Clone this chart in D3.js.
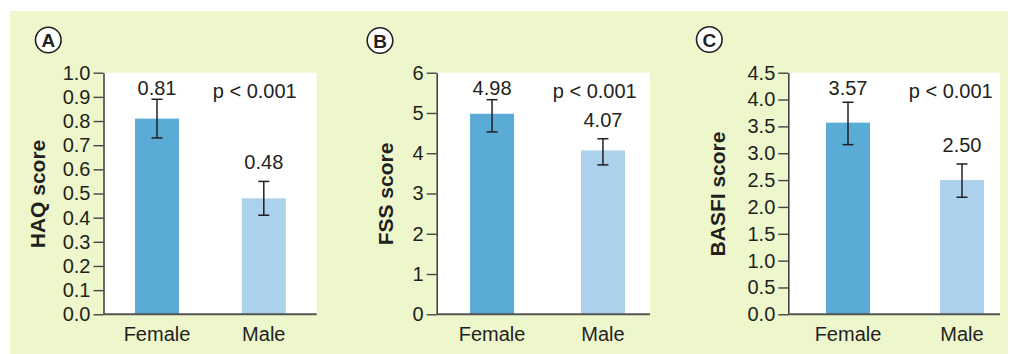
<!DOCTYPE html>
<html>
<head>
<meta charset="utf-8">
<script src="https://cdn.jsdelivr.net/npm/d3@7"></script>
<style>
  html, body { margin: 0; padding: 0; background: #ffffff; }
  svg { display: block; }
  text { font-family: "Liberation Sans", Arial, Helvetica, sans-serif; fill: #231f20; }
</style>
</head>
<body>
<svg id="chart" width="1010" height="354"></svg>
<script>
// ---- data ----
const categories = ["Female", "Male"];
const panelLetters = ["A", "B", "C"];
const yTitles = ["HAQ score", "FSS score", "BASFI score"];
const haqValues = [0.81, 0.48];
const haqErrLow = [0.73, 0.41];
const haqErrHigh = [0.89, 0.55];
const fssValues = [4.98, 4.07];
const fssErrLow = [4.53, 3.71];
const fssErrHigh = [5.33, 4.36];
const basfiValues = [3.57, 2.50];
const basfiErrLow = [3.16, 2.18];
const basfiErrHigh = [3.95, 2.80];
const haqTicks = [0, 0.1, 0.2, 0.3, 0.4, 0.5, 0.6, 0.7, 0.8, 0.9, 1.0];
const fssTicks = [0, 1, 2, 3, 4, 5, 6];
const basfiTicks = [0, 0.5, 1.0, 1.5, 2.0, 2.5, 3.0, 3.5, 4.0, 4.5];
const pText = "p < 0.001";

// ---- layout (not data) ----
const colors = ["#5aabd6", "#abd1ec"];
const panels = [
  { values: haqValues, lo: haqErrLow, hi: haqErrHigh, ticks: haqTicks, fmt: d3.format(".1f"), valFmt: d3.format(".2f"),
    axisX: 103.5, plotRight: 316.7, band: [103.6, 317.2], pEnd: 296.7, circle: [48.3, 40], titleX: 45 },
  { values: fssValues, lo: fssErrLow, hi: fssErrHigh, ticks: fssTicks, fmt: d3.format("d"), valFmt: d3.format(".2f"),
    axisX: 436.7, plotRight: 650, band: [436.6, 658.4], pEnd: 636.7, circle: [380, 40.5], titleX: 393 },
  { values: basfiValues, lo: basfiErrLow, hi: basfiErrHigh, ticks: basfiTicks, fmt: d3.format(".1f"), valFmt: d3.format(".2f"),
    axisX: 788.3, plotRight: 1000, band: [791, 1019], pEnd: 992.7, circle: [709.3, 39.5], titleX: 725 }
];
const yTop = 72.7, yBottom = 314.3;

const svg = d3.select("#chart");
svg.append("rect").attr("x", 10).attr("y", 11).attr("width", 998).attr("height", 343).attr("fill", "#edf7cb");

panels.forEach((p, i) => {
  const g = svg.append("g");
  const maxV = p.ticks[p.ticks.length - 1];
  const y = d3.scaleLinear().domain([0, maxV]).range([yBottom, yTop]);
  const step = (p.band[1] - p.band[0]) / categories.length;
  const pad = 1 - 44 / step;
  const x = d3.scaleBand().domain(categories).range(p.band).paddingInner(pad).paddingOuter(pad / 2);

  // white plot area
  g.append("rect").attr("x", p.axisX).attr("y", yTop).attr("width", p.plotRight - p.axisX).attr("height", yBottom - yTop).attr("fill", "#ffffff");

  // bars
  g.selectAll(".bar").data(p.values).join("rect")
    .attr("x", (d, j) => x(categories[j]))
    .attr("width", x.bandwidth())
    .attr("y", d => y(d))
    .attr("height", d => yBottom - y(d))
    .attr("fill", (d, j) => colors[j]);

  // error bars
  const cx = j => x(categories[j]) + x.bandwidth() / 2;
  p.values.forEach((v, j) => {
    const eg = g.append("g").attr("stroke", "#231f20").attr("stroke-width", 1.5).attr("fill", "none");
    eg.append("line").attr("x1", cx(j)).attr("x2", cx(j)).attr("y1", y(p.lo[j])).attr("y2", y(p.hi[j]));
    eg.append("line").attr("x1", cx(j) - 5.5).attr("x2", cx(j) + 5.5).attr("y1", y(p.lo[j])).attr("y2", y(p.lo[j]));
    eg.append("line").attr("x1", cx(j) - 5.5).attr("x2", cx(j) + 5.5).attr("y1", y(p.hi[j])).attr("y2", y(p.hi[j]));
    g.append("text").attr("x", cx(j)).attr("y", Math.max(y(p.hi[j]) - 12, 95))
      .attr("text-anchor", "middle").attr("font-size", 20).text(p.valFmt(v));
  });

  // y axis
  const yAxis = d3.axisLeft(y).tickValues(p.ticks).tickFormat(p.fmt).tickSize(10).tickPadding(3).tickSizeOuter(0);
  const ya = g.append("g").attr("transform", `translate(${p.axisX},0)`).call(yAxis);
  ya.select(".domain").attr("stroke", "#444").attr("stroke-width", 1.6);
  ya.selectAll(".tick line").attr("stroke", "#444").attr("stroke-width", 1.4);
  ya.selectAll(".tick text").attr("font-size", 20).attr("fill", "#231f20")
    .attr("font-family", "'Liberation Sans', Arial, Helvetica, sans-serif");

  // x axis
  const xa = g.append("g").attr("transform", `translate(0,${yBottom})`);
  xa.append("line").attr("x1", p.axisX).attr("x2", p.plotRight).attr("y1", 0).attr("y2", 0)
    .attr("stroke", "#555").attr("stroke-width", 2);
  categories.forEach((c, j) => {
    xa.append("text").attr("x", cx(j)).attr("y", 27).attr("text-anchor", "middle").attr("font-size", 20).text(c);
  });

  // p value
  g.append("text").attr("x", p.pEnd).attr("y", 98).attr("text-anchor", "end").attr("font-size", 20).text(pText);

  // y title
  g.append("text").attr("transform", `translate(${p.titleX},194) rotate(-90)`)
    .attr("text-anchor", "middle").attr("font-size", 21).attr("font-weight", "bold").text(yTitles[i]);

  // panel letter
  g.append("circle").attr("cx", p.circle[0]).attr("cy", p.circle[1]).attr("r", 12.8)
    .attr("fill", "#ffffff").attr("stroke", "#231f20").attr("stroke-width", 1.6);
  g.append("text").attr("x", p.circle[0]).attr("y", p.circle[1] + 7).attr("text-anchor", "middle")
    .attr("font-size", 19).attr("font-weight", "bold").text(panelLetters[i]);
});
</script>
</body>
</html>
